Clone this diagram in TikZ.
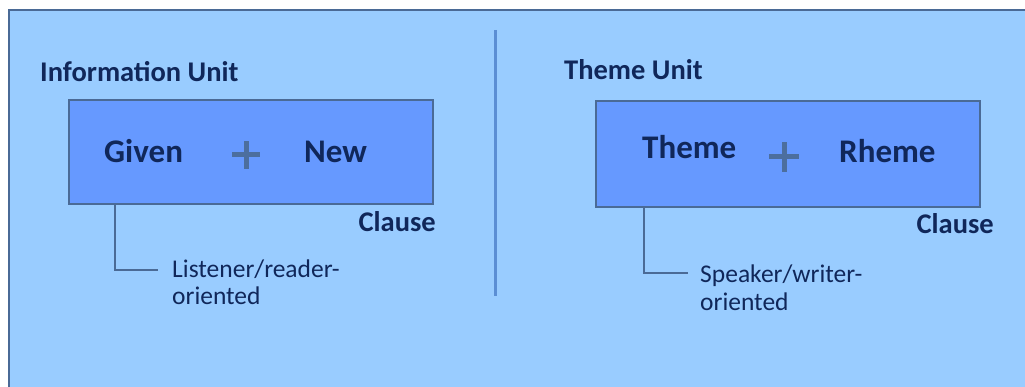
\documentclass[tikz,border=0pt]{standalone}
\usepackage{fontspec}
\setmainfont{Carlito}
\usetikzlibrary{positioning}
\definecolor{paneblue}{HTML}{99CCFF}
\definecolor{boxblue}{HTML}{6699FF}
\definecolor{rimblue}{HTML}{4A6A96}
\definecolor{inkblue}{HTML}{10275A}
\definecolor{plusblue}{HTML}{4C6E9E}
\definecolor{divblue}{HTML}{5B8ED4}
\tikzset{%
unitbox/.style={draw=rimblue,fill=boxblue,line width=2pt},
heading/.style={font=\bfseries\fontsize{28.5}{32}\selectfont,text=inkblue,inner sep=0,anchor=base west},
part/.style={font=\bfseries\fontsize{33}{36}\selectfont,text=inkblue,inner sep=0,anchor=base west},
clause/.style={font=\bfseries\fontsize{28.5}{32}\selectfont,text=inkblue,inner sep=0,anchor=base east},
note/.style={font=\fontsize{25.5}{28}\selectfont,text=inkblue,inner sep=0,align=left,anchor=base west},
plus/.style={draw=plusblue,line width=5pt},
elbow/.style={draw=rimblue,line width=2.5pt}
}
\begin{document}
\begin{tikzpicture}[x=1pt,y=-1pt]
  \useasboundingbox (0,0) rectangle (1025,387);
  % background panel
  \fill[white] (0,0) rectangle (1025,387);
  \draw[rimblue,fill=paneblue,line width=2.5pt] (9,10) rectangle (1040,400);
  \draw[divblue,line width=3pt] (495,30) -- (495,296);

  % information unit
  \node[heading] (infohead) at (40,82) {Information Unit};
  \draw[unitbox] (69,100) rectangle (433,204);
  \coordinate (infobox) at (69,204);
  \node[part] (given) at (104,163) {Given};
  \node[part] (new)   at (304,163) {New};
  \coordinate (plusa) at (246,155);
  \draw[plus] ([xshift=-14pt]plusa) -- ([xshift=14pt]plusa)
              ([yshift=-14pt]plusa) -- ([yshift=14pt]plusa);
  \node[clause] (clausea) at (436,232) {Clause};
  \node[note] (listener) at (172,305) {Listener/reader-\\oriented};
  \coordinate (listentip) at (158,270);
  \draw[elbow] ([xshift=46pt]infobox) |- (listentip);

  % theme unit
  \node[heading] (themehead) at (564,80) {Theme Unit};
  \draw[unitbox] (596,101) rectangle (980,207);
  \coordinate (themebox) at (596,207);
  \node[part] (theme) at (642,159) {Theme};
  \node[part] (rheme) at (839,163) {Rheme};
  \coordinate (plusb) at (784,157);
  \draw[plus] ([xshift=-15pt]plusb) -- ([xshift=15pt]plusb)
              ([yshift=-15pt]plusb) -- ([yshift=15pt]plusb);
  \node[clause] (clauseb) at (994,234) {Clause};
  \node[note] (speaker) at (700,310) {Speaker/writer-\\oriented};
  \coordinate (speaktip) at (688,273);
  \draw[elbow] ([xshift=48pt]themebox) |- (speaktip);

\end{tikzpicture}
\end{document}
